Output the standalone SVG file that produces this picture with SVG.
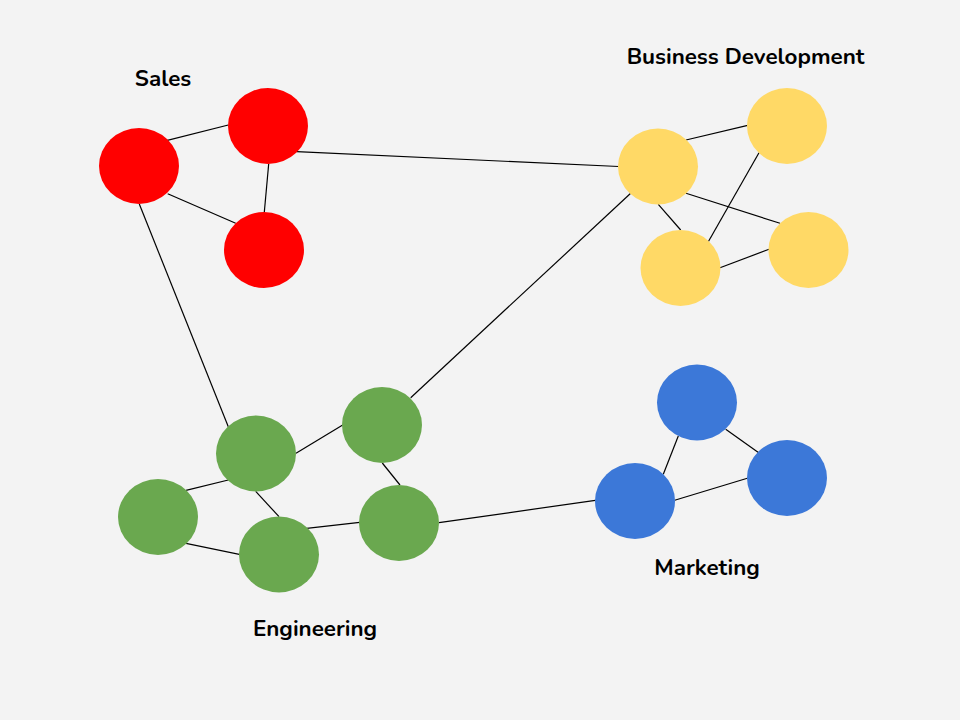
<svg xmlns="http://www.w3.org/2000/svg" width="960" height="720" viewBox="0 0 960 720">
<style>
.e{stroke:#000;stroke-width:1.2;fill:none}
.r{fill:#ff0000}.y{fill:#ffd966}.g{fill:#6aa84f}.b{fill:#3c78d8}
.t{font-family:"Nunito","Lato","Open Sans",sans-serif;font-weight:bold;font-size:22.4px;fill:#000;text-anchor:middle}
</style>
<rect width="960" height="720" fill="#f3f3f3"/>
<g id="connectors">
<line class="e" x1="167.3" y1="140.3" x2="228.3" y2="125"/>
<line class="e" x1="167.7" y1="193.7" x2="235.7" y2="223.3"/>
<line class="e" x1="268.7" y1="163.7" x2="264.3" y2="212.3"/>
<line class="e" x1="139.3" y1="204" x2="228.3" y2="426.7"/>
<line class="e" x1="296.7" y1="151.7" x2="618.7" y2="166.5"/>
<line class="e" x1="686" y1="140" x2="747.7" y2="125.3"/>
<line class="e" x1="686" y1="193.3" x2="780" y2="223.3"/>
<line class="e" x1="658.3" y1="204.3" x2="680.7" y2="230"/>
<line class="e" x1="759" y1="152.7" x2="708.3" y2="241.7"/>
<line class="e" x1="720" y1="267.7" x2="769" y2="249.3"/>
<line class="e" x1="630.7" y1="193.3" x2="410.7" y2="397.7"/>
<line class="e" x1="296" y1="453.3" x2="342.7" y2="425"/>
<line class="e" x1="186" y1="490.3" x2="228.3" y2="480"/>
<line class="e" x1="255.7" y1="491.3" x2="279" y2="516.7"/>
<line class="e" x1="186" y1="543.3" x2="239.3" y2="554.3"/>
<line class="e" x1="306.7" y1="528.3" x2="359.7" y2="522.3"/>
<line class="e" x1="382.3" y1="463" x2="400" y2="485"/>
<line class="e" x1="439" y1="522.7" x2="595.3" y2="500.3"/>
<line class="e" x1="678.3" y1="436" x2="663.3" y2="474.3"/>
<line class="e" x1="725.7" y1="429.3" x2="758.7" y2="452.7"/>
<line class="e" x1="674.7" y1="500.3" x2="747.3" y2="478.3"/>
</g>
<g id="sales">
<ellipse id="s1" class="r" cx="139" cy="166" rx="40" ry="38"/>
<ellipse id="s2" class="r" cx="268" cy="126" rx="40" ry="38"/>
<ellipse id="s3" class="r" cx="264" cy="250" rx="40" ry="38"/>
<text class="t" x="163" y="86">Sales</text>
</g>
<g id="bizdev">
<ellipse id="b1" class="y" cx="658" cy="166.5" rx="40" ry="38"/>
<ellipse id="b2" class="y" cx="787" cy="126" rx="40" ry="38"/>
<ellipse id="b3" class="y" cx="680.5" cy="268" rx="40" ry="38"/>
<ellipse id="b4" class="y" cx="808.5" cy="250" rx="40" ry="38"/>
<text class="t" x="745.5" y="64">Business Development</text>
</g>
<g id="engineering">
<ellipse id="e1" class="g" cx="256" cy="453.5" rx="40" ry="38"/>
<ellipse id="e2" class="g" cx="382" cy="425" rx="40" ry="38"/>
<ellipse id="e3" class="g" cx="158" cy="517" rx="40" ry="38"/>
<ellipse id="e4" class="g" cx="279" cy="554.5" rx="40" ry="38"/>
<ellipse id="e5" class="g" cx="399" cy="523" rx="40" ry="38"/>
<text class="t" x="315" y="636">Engineering</text>
</g>
<g id="marketing">
<ellipse id="m1" class="b" cx="697" cy="402.5" rx="40" ry="38"/>
<ellipse id="m2" class="b" cx="787" cy="478" rx="40" ry="38"/>
<ellipse id="m3" class="b" cx="635" cy="501" rx="40" ry="38"/>
<text class="t" x="707" y="575">Marketing</text>
</g>
</svg>
